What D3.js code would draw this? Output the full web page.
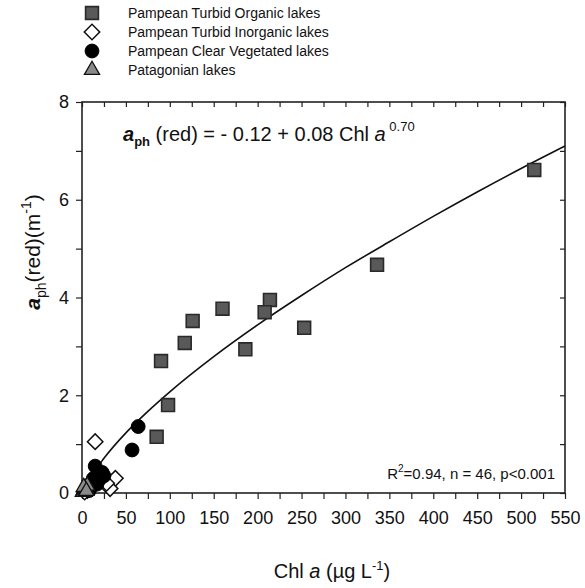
<!DOCTYPE html>
<html><head><meta charset="utf-8">
<script src="https://cdn.jsdelivr.net/npm/d3@7"></script>
<style>body{margin:0;background:#fff}svg{display:block}text{font-family:"Liberation Sans",Arial,sans-serif;fill:#111}</style>
</head><body><svg id="c" width="585" height="588"></svg>
<script>
// Data
const turbidOrganic = [[515,6.61],[336,4.67],[253,3.38],[214,3.95],[208,3.70],[160,3.77],[126,3.52],[117,3.07],[186,2.94],[90,2.70],[98,1.80],[85,1.15],[8,0.12]];
const turbidInorganic = [[15,1.05],[38,0.30],[32,0.09],[28,0.20],[6,0.05],[3,0.02]];
const clearVegetated = [[64,1.36],[57,0.88],[15,0.55],[23,0.42],[20,0.28],[13,0.30],[17,0.18],[10,0.12],[8,0.05],[25,0.35],[12,0.22]];
const patagonian = [[1,0.02],[2,0.05],[3,0.08],[4,0.10],[6,0.15],[2,0.12],[5,0.04]];
const fitX = [12,15,25,50,75,100,150,200,250,300,350,400,450,500,550];
const fitY = [0.37,0.46,0.71,1.23,1.67,2.07,2.79,3.44,4.04,4.61,5.14,5.66,6.16,6.64,7.10];
const xTicks = [0,50,100,150,200,250,300,350,400,450,500,550];
const yTicks = [0,2,4,6,8];
const legendLabels = ["Pampean Turbid Organic lakes","Pampean Turbid Inorganic lakes","Pampean Clear Vegetated lakes","Patagonian lakes"];

const svg = d3.select("#c");
const L=82,R=565,T=102,B=493;
const x = d3.scaleLinear().domain([0,550]).range([L,R]);
const y = d3.scaleLinear().domain([0,8]).range([B,T]);
const ax = "#222";

const minorX = d3.range(0,551,25), minorY = d3.range(0,8.01,1);
const g = svg.append("g");
g.append("g").attr("transform",`translate(0,${B})`)
 .call(d3.axisBottom(x).tickValues(minorX).tickSize(6).tickFormat(""))
 .call(s=>{s.select(".domain").remove();s.selectAll("line").attr("stroke",ax).attr("stroke-width",1.2);});
g.append("g").attr("transform",`translate(0,${B})`)
 .call(d3.axisBottom(x).tickValues(xTicks).tickSize(0).tickPadding(18).tickFormat(d3.format("d")))
 .call(s=>{s.select(".domain").remove();s.selectAll("text").attr("font-size",18).attr("font-family","Liberation Sans, Arial").attr("fill","#111");});
g.append("g").attr("transform",`translate(0,${T})`)
 .call(d3.axisBottom(x).tickValues(minorX).tickSize(5).tickFormat(""))
 .call(s=>{s.select(".domain").remove();s.selectAll("line").attr("stroke",ax).attr("stroke-width",1.2);});
g.append("g").attr("transform",`translate(${L},0)`)
 .call(d3.axisLeft(y).tickValues(minorY).tickSize(6).tickFormat(""))
 .call(s=>{s.select(".domain").remove();s.selectAll("line").attr("stroke",ax).attr("stroke-width",1.2);});
g.append("g").attr("transform",`translate(${L},0)`)
 .call(d3.axisLeft(y).tickValues(yTicks).tickSize(0).tickPadding(13).tickFormat(d3.format("d")))
 .call(s=>{s.select(".domain").remove();s.selectAll("text").attr("font-size",18).attr("font-family","Liberation Sans, Arial").attr("fill","#111");});
g.append("g").attr("transform",`translate(${R},0)`)
 .call(d3.axisLeft(y).tickValues(minorY).tickSize(5).tickFormat(""))
 .call(s=>{s.select(".domain").remove();s.selectAll("line").attr("stroke",ax).attr("stroke-width",1.2);});
svg.append("rect").attr("x",L).attr("y",T).attr("width",R-L).attr("height",B-T)
 .attr("fill","none").attr("stroke",ax).attr("stroke-width",1.6);

// fit line
const fit = fitX.map((d,i)=>[d,fitY[i]]);
svg.append("path").datum(fit).attr("fill","none").attr("stroke","#111").attr("stroke-width",1.6)
 .attr("d",d3.line().x(d=>x(d[0])).y(d=>y(d[1])).curve(d3.curveMonotoneX));

// symbols
const sq = d3.symbol().type(d3.symbolSquare).size(165);
const di = d3.symbol().type(d3.symbolSquare).size(120);
const ci = d3.symbol().type(d3.symbolCircle).size(150);
const tr = d3.symbol().type(d3.symbolTriangle).size(100);
function plot(data,sym,r,fill,stroke,sw){
  svg.append("g").selectAll("path").data(data).join("path")
   .attr("transform",d=>`translate(${x(d[0])},${y(d[1])}) rotate(${r})`)
   .attr("d",sym).attr("fill",fill).attr("stroke",stroke).attr("stroke-width",sw);
}
plot(turbidOrganic,sq,0,"#595959","#2a2a2a",1.6);
plot(turbidInorganic,di,45,"#fff","#111",1.5);
plot(clearVegetated,ci,0,"#000","#000",1);
plot(patagonian,tr,0,"#8a8a8a","#111",1.3);

// legend
const legSyms=[[sq,0,"#595959","#2a2a2a",1.6],[di,45,"#fff","#111",1.5],[ci,0,"#000","#000",1],[tr,0,"#8a8a8a","#111",1.3]];
legendLabels.forEach((t,i)=>{
  const yy=13+i*19;
  svg.append("path").attr("transform",`translate(92,${yy}) rotate(${legSyms[i][1]})`).attr("d",legSyms[i][0])
   .attr("fill",legSyms[i][2]).attr("stroke",legSyms[i][3]).attr("stroke-width",legSyms[i][4]);
  svg.append("text").attr("x",128).attr("y",yy+5).attr("font-size",14).text(t);
});

// equation
const eq = svg.append("text").attr("x",123).attr("y",141).attr("font-size",20);
eq.append("tspan").attr("font-weight","bold").attr("font-style","italic").text("a");
eq.append("tspan").attr("font-size",13).attr("font-weight","bold").attr("dy",5).text("ph");
eq.append("tspan").attr("dy",-5).text(" (red) = - 0.12 + 0.08 Chl  ");
eq.append("tspan").attr("font-style","italic").text("a");
eq.append("tspan").attr("font-size",13).attr("dy",-10).text(" 0.70");

// stats
const st = svg.append("text").attr("x",555).attr("y",479).attr("font-size",15).attr("text-anchor","end");
st.append("tspan").text("R");
st.append("tspan").attr("font-size",10).attr("dy",-7).text("2");
st.append("tspan").attr("dy",7).text("=0.94, n = 46, p<0.001");

// x title
const xt = svg.append("text").attr("x",332).attr("y",578).attr("font-size",20).attr("text-anchor","middle");
xt.append("tspan").text("Chl ");
xt.append("tspan").attr("font-style","italic").text("a");
xt.append("tspan").text(" (µg L");
xt.append("tspan").attr("font-size",13).attr("dy",-8).text("-1");
xt.append("tspan").attr("dy",8).text(")");

// y title
const yt = svg.append("text").attr("transform","translate(40,252) rotate(-90)").attr("font-size",21).attr("text-anchor","middle");
yt.append("tspan").attr("font-weight","bold").attr("font-style","italic").text("a");
yt.append("tspan").attr("font-size",14).attr("dy",6).text("ph");
yt.append("tspan").attr("dy",-6).text("(red)(m");
yt.append("tspan").attr("font-size",14).attr("dy",-9).text("-1");
yt.append("tspan").attr("dy",9).text(")");
</script></body></html>
